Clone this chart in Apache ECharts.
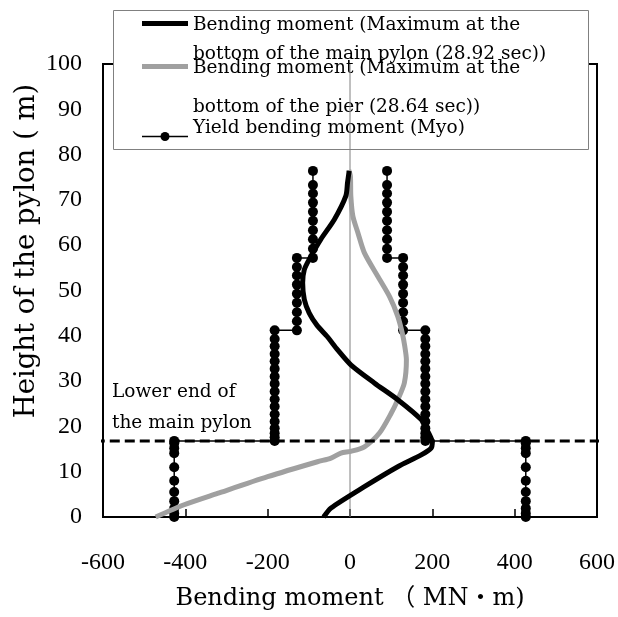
<!DOCTYPE html>
<html><head><meta charset="utf-8">
<script src="https://cdn.jsdelivr.net/npm/echarts@6/dist/echarts.min.js"></script>
<style>html,body{margin:0;padding:0;background:#fff}#c{width:618px;height:617px}</style>
</head><body><div id="c"></div>
<script>
// ---- data ----
const xTicks = [-600, -400, -200, 0, 200, 400, 600];
const yTicks = [0, 10, 20, 30, 40, 50, 60, 70, 80, 90, 100];

const seriesNames = [
  'Bending moment (Maximum at the\nbottom of the main pylon (28.92 sec))',
  'Bending moment (Maximum at the\nbottom of the pier (28.64 sec))',
  'Yield bending moment (Myo)'
];

// Bending moment, max at bottom of main pylon (28.92 s)
const pylonHeight = [0, 2.0, 6.7, 11.1, 13.7, 15.2, 16.6, 18.0, 18.9, 21.5, 25.9, 29.6, 33.6, 36.9, 39.9, 42.3, 45.0, 48.0, 51.7, 54.6, 56.9, 61.3, 65.7, 70.9, 73.8, 76.4];
const pylonMoment = [-64, -46, 35, 116, 173, 197, 200, 194, 189, 173, 116, 59, 2, -30, -56, -80, -99, -111, -115, -111, -99, -71, -38, -10, -6, -2];

// Bending moment, max at bottom of pier (28.64 s)
const pierHeight = [0, 2.7, 5.2, 8.9, 12.2, 13.0, 14.1, 14.5, 15.5, 18.6, 22.9, 25.9, 29.6, 34.7, 37.7, 40.6, 44.3, 48.5, 53.2, 58.3, 62.8, 66.4, 70.9, 75.3, 76.6];
const pierMoment = [-472, -403, -322, -200, -79, -46, -22, 2, 35, 72, 100, 116, 132, 137, 133, 127, 116, 97, 67, 35, 19, 7, 2, 1, -3];

// Yield bending moment (Myo): value per segment and node heights of each segment
const yieldMoment = [427, 183, 129, 90];
const yieldHeights = [
  [0, 0.8, 1.9, 3.5, 5.5, 8.0, 11.0, 14.1, 15.2, 16.3, 16.8],
  [16.8, 17.6, 18.5, 19.6, 21.1, 22.7, 24.4, 26.0, 27.7, 29.4, 31.0, 32.7, 34.4, 36.0, 37.7, 39.3, 41.2],
  [41.2, 43.2, 45.2, 47.3, 49.3, 51.3, 53.3, 55.2, 57.2],
  [57.2, 59.2, 61.3, 63.3, 65.4, 67.4, 69.4, 71.4, 73.3, 76.4]
];

const lowerEndHeight = 16.8;
const lowerEndLabel = ['Lower end of', 'the main pylon'];

// ---- build ----
const zip = (xs, ys) => xs.map((x, i) => [x, ys[i]]);
function yieldSide(sign) {
  const pts = [];
  yieldHeights.forEach((hs, i) => hs.forEach(h => pts.push([sign * yieldMoment[i], h])));
  return pts;
}

const serif = 'DejaVu Serif, "Noto Sans CJK JP", serif';
const tickFont = 'Liberation Serif, "Times New Roman", serif';

const chart = echarts.init(document.getElementById('c'), null, {renderer: 'canvas'});
const legendText = (x, y, t) => ({type: 'text', x, y, style: {text: t, fontFamily: serif, fontSize: 18.5, fill: '#000', verticalAlign: 'middle', align: 'left'}});

chart.setOption({
  animation: false,
  backgroundColor: '#fff',
  grid: {left: 103, right: 21, top: 64, bottom: 100, show: true, borderColor: '#000', borderWidth: 2, backgroundColor: 'transparent'},
  xAxis: {
    type: 'value', min: xTicks[0], max: xTicks[xTicks.length - 1], interval: xTicks[1] - xTicks[0],
    axisLine: {onZero: false, lineStyle: {color: '#000', width: 2}},
    axisTick: {inside: true, length: 8, lineStyle: {color: '#000', width: 1.5}},
    splitLine: {show: false},
    axisLabel: {fontFamily: tickFont, fontSize: 24, color: '#000', margin: 34},
    name: 'Bending moment （ MN・m)', nameLocation: 'middle', nameGap: 70,
    nameTextStyle: {fontFamily: serif, fontSize: 24, color: '#000'}
  },
  yAxis: {
    type: 'value', min: yTicks[0], max: yTicks[yTicks.length - 1], interval: yTicks[1] - yTicks[0],
    axisLine: {onZero: false, lineStyle: {color: '#000', width: 2}},
    axisTick: {show: false},
    splitLine: {show: false},
    axisLabel: {fontFamily: tickFont, fontSize: 24, color: '#000', margin: 21}
  },
  graphic: [
    {type: 'text', x: 27, y: 251, rotation: Math.PI / 2,
     style: {text: 'Height of the pylon ( m)', fontFamily: serif, fontSize: 27.5, fill: '#000', align: 'center', verticalAlign: 'middle'}},
    {type: 'text', x: 112, y: 392, style: {text: lowerEndLabel[0], fontFamily: serif, fontSize: 18.5, fill: '#000', verticalAlign: 'middle'}},
    {type: 'text', x: 112, y: 423, style: {text: lowerEndLabel[1], fontFamily: serif, fontSize: 18.5, fill: '#000', verticalAlign: 'middle'}},
    {type: 'group', z: 100, children: [
      {type: 'rect', shape: {x: 113.5, y: 10.5, width: 475, height: 139}, style: {fill: '#fff', stroke: '#808080', lineWidth: 1}},
      {type: 'line', shape: {x1: 142, y1: 23.5, x2: 188, y2: 23.5}, style: {stroke: '#000', lineWidth: 5}},
      legendText(193, 25, seriesNames[0].split('\n')[0]),
      legendText(193, 54, seriesNames[0].split('\n')[1]),
      {type: 'line', shape: {x1: 142, y1: 66.5, x2: 188, y2: 66.5}, style: {stroke: '#a0a0a0', lineWidth: 5}},
      legendText(193, 68, seriesNames[1].split('\n')[0]),
      legendText(193, 107, seriesNames[1].split('\n')[1]),
      {type: 'line', shape: {x1: 142, y1: 136.5, x2: 188, y2: 136.5}, style: {stroke: '#000', lineWidth: 1.5}},
      {type: 'circle', shape: {cx: 165, cy: 136.5, r: 4.5}, style: {fill: '#000'}},
      legendText(193, 128, seriesNames[2])
    ]}
  ],
  series: [
    {
      type: 'line', name: 'zero', data: [[0, yTicks[0]], [0, yTicks[yTicks.length - 1]]],
      symbol: 'none', lineStyle: {color: '#808080', width: 1}, z: 1, silent: true
    },
    {
      type: 'line', name: seriesNames[2], data: yieldSide(-1), symbol: 'circle', symbolSize: 10, showAllSymbol: true,
      itemStyle: {color: '#000'}, lineStyle: {color: '#000', width: 1.5}, z: 3
    },
    {
      type: 'line', name: seriesNames[2] + ' ', data: yieldSide(1), symbol: 'circle', symbolSize: 10, showAllSymbol: true,
      itemStyle: {color: '#000'}, lineStyle: {color: '#000', width: 1.5}, z: 3
    },
    {
      type: 'line', name: seriesNames[1], data: zip(pierMoment, pierHeight), symbol: 'none', smooth: 0.25,
      lineStyle: {color: '#a0a0a0', width: 5}, z: 4
    },
    {
      type: 'line', name: seriesNames[0], data: zip(pylonMoment, pylonHeight), symbol: 'none', smooth: 0.25,
      lineStyle: {color: '#000', width: 5}, z: 5
    },
    {
      type: 'line', name: 'lower end', data: [[-620, lowerEndHeight], [605, lowerEndHeight]], clip: false,
      symbol: 'none', lineStyle: {color: '#000', width: 3, type: [10, 5]}, z: 6, silent: true
    }
  ]
});
</script>
</body></html>
